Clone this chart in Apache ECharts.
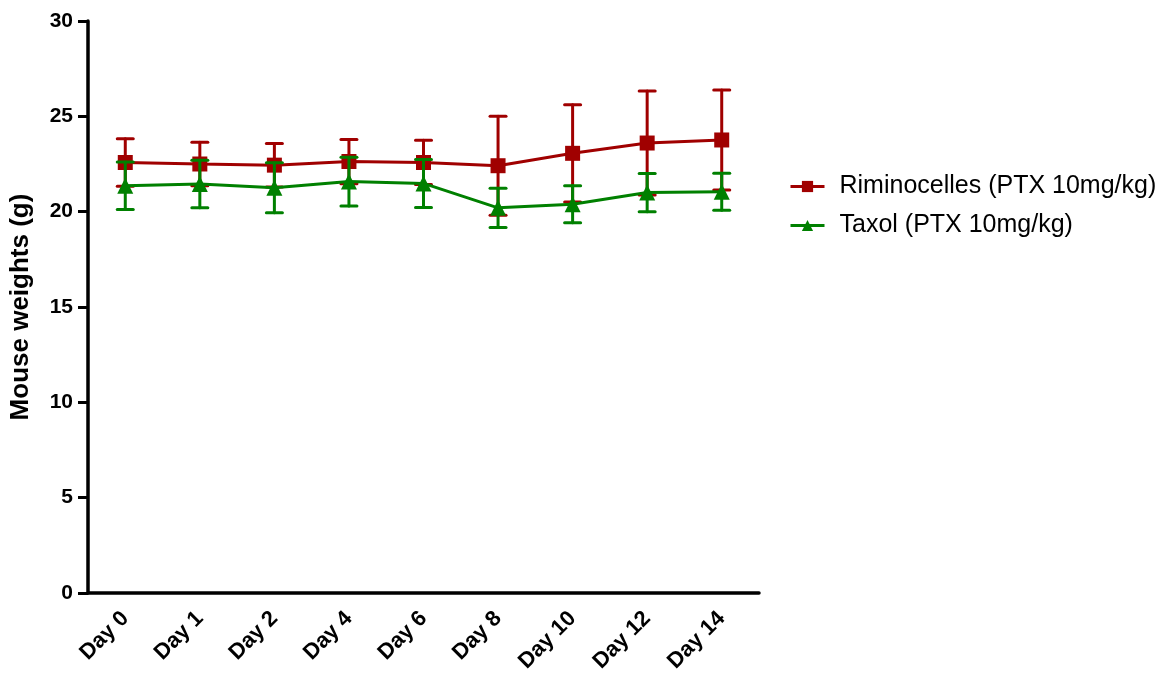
<!DOCTYPE html>
<html>
<head>
<meta charset="utf-8">
<script src="https://cdn.jsdelivr.net/npm/echarts@6/dist/echarts.min.js"></script>
<style>
html,body{margin:0;padding:0;background:#fff;}
#chart{width:1175px;height:680px;}
</style>
</head>
<body>
<div id="chart"></div>
<script>
var categories = ['Day 0','Day 1','Day 2','Day 4','Day 6','Day 8','Day 10','Day 12','Day 14'];
var rimiMean = [22.58, 22.5, 22.44, 22.63, 22.58, 22.41, 23.06, 23.6, 23.76];
var rimiSD   = [1.25, 1.14, 1.14, 1.16, 1.16, 2.6, 2.55, 2.73, 2.62];
var taxolMean = [21.36, 21.45, 21.25, 21.58, 21.48, 20.2, 20.39, 21.0, 21.04];
var taxolSD   = [1.24, 1.25, 1.31, 1.28, 1.26, 1.03, 0.97, 1.0, 0.97];
var yTicks = [0, 5, 10, 15, 20, 25, 30];
var seriesNames = ['Riminocelles (PTX 10mg/kg)', 'Taxol (PTX 10mg/kg)'];
var colors = ['#a00000', '#008000'];

function errData(mean, sd){
  return mean.map(function(m, i){ return [i, m - sd[i], m + sd[i]]; });
}
function errRender(color){
  return function(params, api){
    var x = api.value(0);
    var lo = api.coord([x, api.value(1)]);
    var hi = api.coord([x, api.value(2)]);
    var w = 8;
    var st = {stroke: color, lineWidth: 3, lineCap: 'round'};
    return {type: 'group', children: [
      {type: 'line', shape: {x1: hi[0], y1: hi[1], x2: lo[0], y2: lo[1]}, style: st},
      {type: 'line', shape: {x1: hi[0]-w, y1: hi[1], x2: hi[0]+w, y2: hi[1]}, style: st},
      {type: 'line', shape: {x1: lo[0]-w, y1: lo[1], x2: lo[0]+w, y2: lo[1]}, style: st}
    ]};
  };
}

var chart = echarts.init(document.getElementById('chart'));
var fontFam = '"Liberation Sans", Arial, Helvetica, sans-serif';
chart.setOption({
  animation: false,
  textStyle: {fontFamily: fontFam},
  grid: {left: 88, top: 21, right: 416, bottom: 87, containLabel: false},
  legend: {
    data: seriesNames,
    orient: 'vertical',
    left: 784, top: 169,
    itemWidth: 34, itemHeight: 14, itemGap: 14,
    lineStyle: {width: 3},
    textStyle: {fontSize: 25, color: '#000', fontFamily: fontFam, padding: [0,0,0,10]}
  },
  xAxis: {
    type: 'category',
    data: categories,
    boundaryGap: true,
    axisLine: {lineStyle: {color: '#000', width: 3.5}},
    axisTick: {alignWithLabel: true, length: 9, lineStyle: {color: '#000', width: 3}},
    axisLabel: {rotate: 45, fontSize: 22, fontWeight: 'bold', color: '#000', margin: 22, interval: 0},
    splitLine: {show: false}
  },
  yAxis: {
    type: 'value',
    min: 0, max: 30, interval: 5,
    name: 'Mouse weights (g)',
    nameLocation: 'middle',
    nameGap: 54,
    nameTextStyle: {fontSize: 26, fontWeight: 'bold', color: '#000'},
    axisLine: {show: true, lineStyle: {color: '#000', width: 3.5}},
    axisTick: {show: true, length: 10, lineStyle: {color: '#000', width: 3}},
    axisLabel: {fontSize: 21, fontWeight: 'bold', color: '#000', margin: 15,
      formatter: function(v){ return yTicks.indexOf(v) >= 0 ? String(v) : ''; }},
    splitLine: {show: false}
  },
  series: [
    {name: 'errR', type: 'custom', renderItem: errRender(colors[0]), data: errData(rimiMean, rimiSD), z: 2},
    {name: seriesNames[0], type: 'line', data: rimiMean, symbol: 'rect', symbolSize: 15,
      itemStyle: {color: colors[0]}, lineStyle: {color: colors[0], width: 3}, z: 3},
    {name: 'errT', type: 'custom', renderItem: errRender(colors[1]), data: errData(taxolMean, taxolSD), z: 4},
    {name: seriesNames[1], type: 'line', data: taxolMean, symbol: 'triangle', symbolSize: 16,
      itemStyle: {color: colors[1]}, lineStyle: {color: colors[1], width: 3}, z: 5}
  ]
});
</script>
</body>
</html>
